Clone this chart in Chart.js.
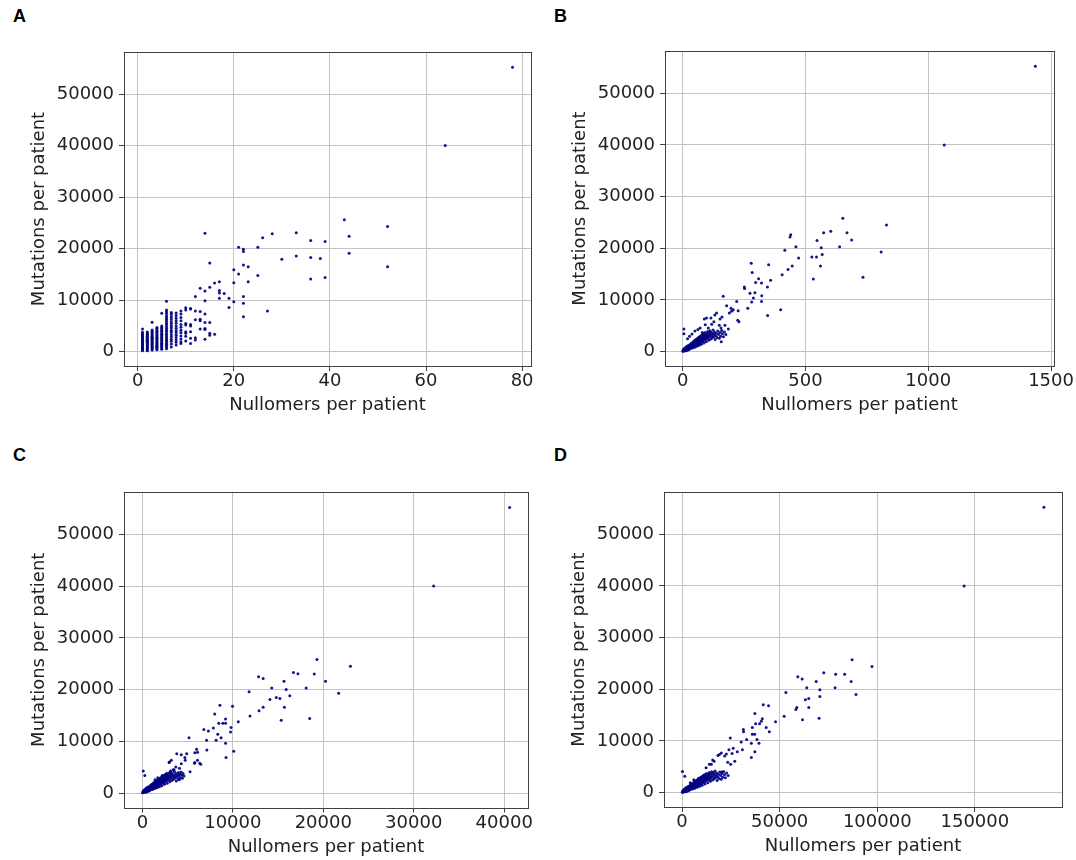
<!DOCTYPE html>
<html lang="en">
<head>
  <meta charset="UTF-8">
  <title>Nullomers vs mutations per patient</title>
  <script src="https://cdn.jsdelivr.net/npm/chart.js@4.4.1/dist/chart.umd.min.js"></script>
  <style>
    body {
      margin: 0;
      width: 1076px;
      height: 860px;
      position: relative;
      overflow: hidden;
      background: #fff;
      font-family: 'Liberation Sans', Arial, sans-serif;
    }
    .panel { position: absolute; width: 538px; height: 430px; }
    .panel canvas { display: block; }
    .tag {
      position: absolute;
      font-size: 18px;
      line-height: 18px;
      font-weight: bold;
      color: #000;
    }
  </style>
</head>
<body>
  <div class="tag" style="left:13px;top:7px">A</div>
  <div class="tag" style="left:554px;top:7px">B</div>
  <div class="tag" style="left:13px;top:446px">C</div>
  <div class="tag" style="left:554px;top:446px">D</div>

  <div class="panel" style="left:0;top:0"><canvas id="chartA" width="538" height="430"></canvas></div>
  <div class="panel" style="left:538px;top:0"><canvas id="chartB" width="538" height="430"></canvas></div>
  <div class="panel" style="left:0;top:430px"><canvas id="chartC" width="538" height="430"></canvas></div>
  <div class="panel" style="left:538px;top:430px"><canvas id="chartD" width="538" height="430"></canvas></div>

  <script>
    // tick labels
    const mutTicks = [0, 10000, 20000, 30000, 40000, 50000];
    const aTicks = [0, 20, 40, 60, 80];
    const bTicks = [0, 500, 1000, 1500];
    const cTicks = [0, 10000, 20000, 30000, 40000];
    const dTicks = [0, 50000, 100000, 150000];

    // panel A: nullomers per patient (small counts, integer columns)
    const aNull = [
      1, 1, 1, 1, 1, 1, 1, 1, 1, 1, 1, 1, 1, 1, 1, 1, 1, 1, 1, 1,
      2, 2, 2, 2, 2, 2, 2, 2, 2, 2, 2, 2, 2, 2, 2, 2, 2, 2, 2, 2,
      3, 3, 3, 3, 3, 3, 3, 3, 3, 3, 3, 3, 3, 3, 3, 3, 3, 3, 3, 3,
      4, 4, 4, 4, 4, 4, 4, 4, 4, 4, 4, 4, 4, 4, 4, 4, 4, 4, 4, 4,
      5, 5, 5, 5, 5, 5, 5, 5, 5, 5, 5, 5, 5, 5, 5, 5, 5, 5, 5, 5,
      6, 6, 6, 6, 6, 6, 6, 6, 6, 6, 6, 6, 6, 6, 6, 6, 6, 6, 6, 6, 6, 6, 6, 6, 6,
      7, 7, 7, 7, 7, 7, 7, 7, 7, 7, 7, 7, 7, 7, 7, 7,
      8, 8, 8, 8, 8, 8, 8, 8, 8, 8, 8, 8, 8, 8,
      9, 9, 9, 9, 9, 9, 9, 9, 9, 9, 9, 9,
      10, 10, 10, 10, 10, 10, 10, 10,
      11, 11, 11, 11, 11, 11, 11,
      12, 12, 12, 12, 12,
      13, 13, 13, 13, 13,
      14, 14, 14, 14, 14, 14, 14, 14,
      15, 15, 15, 15, 15,
      16, 16, 17, 17, 17, 17, 18, 19, 19, 20, 20, 20,
      21, 21, 22, 22, 22, 22, 22, 22, 23, 23,
      25, 25, 26, 27, 28, 30, 33, 33, 36, 36, 36, 38,
      39, 39, 43, 44, 44, 52, 52, 64, 78
    ];
    const aMut = [
      4400, 3760, 3540, 3290, 3100, 2870, 2690, 2450, 2280, 2060, 1910, 1690, 1540, 1330, 1170, 940, 790, 570, 410, 170,
      3850, 3630, 3410, 3230, 2990, 2800, 2590, 2430, 2210, 2050, 1850, 1690, 1480, 1320, 1120, 950, 740, 570, 360, 200,
      5700, 4210, 3930, 3720, 3450, 3240, 3010, 2830, 2590, 2400, 2170, 1990, 1760, 1570, 1340, 1160, 930, 750, 530, 340,
      4690, 4490, 4210, 3990, 3730, 3510, 3260, 3060, 2810, 2600, 2360, 2150, 1910, 1710, 1480, 1280, 1040, 850, 610, 390,
      7480, 5010, 4690, 4460, 4170, 3930, 3650, 3410, 3140, 2910, 2640, 2410, 2140, 1910, 1650, 1430, 1170, 960, 710, 490,
      9800, 8120, 7740, 7410, 6990, 6660, 6290, 5960, 5590, 5260, 4890, 4570, 4220, 3910, 3560, 3260, 2920, 2630, 2300, 2010, 1710, 1450, 1160, 910, 590,
      7600, 7260, 6790, 6360, 5890, 5460, 5040, 4630, 4190, 3810, 3340, 2910, 2440, 2010, 1490, 910,
      7510, 7040, 6510, 5990, 5510, 4990, 4560, 4090, 3660, 3190, 2760, 2290, 1860, 1290,
      7890, 7310, 6640, 6010, 5290, 4760, 4190, 3660, 3040, 2460, 1940, 1610,
      8550, 8100, 5500, 5200, 3900, 3600, 3000, 2100,
      8400, 8300, 5300, 5000, 3900, 2600, 1600,
      10700, 7900, 6200, 2700, 2300,
      12300, 7800, 6300, 6000, 4400,
      23000, 11800, 9900, 7300, 5650, 4500, 4300, 2400,
      17200, 12500, 5650, 3600, 3200,
      13350, 3400, 13600, 11900, 11400, 10400, 11300, 10400, 8600, 15900, 13400, 9700,
      20300, 15100, 19900, 19450, 16850, 10700, 9400, 6800, 16500, 13600,
      20300, 14800, 22100, 7900, 22900, 17950, 23100, 18600, 21600, 18300, 14100, 18100,
      21400, 14400, 25600, 22400, 19100, 24300, 16500, 40000, 55200
    ];

    // dense cluster near the origin in B, C and D: mutations per patient
    const coreMut = [
      80, 260, 150, 420, 110, 300, 560, 210, 380, 650,
      270, 480, 820, 330, 600, 180, 420, 980, 560, 300,
      740, 450, 1150, 620, 880, 380, 1020, 690, 1300, 520,
      840, 1180, 600, 1480, 930, 760, 1250, 1650, 840, 1100,
      1420, 700, 1800, 1200, 950, 1550, 2000, 1080, 1340, 1700,
      880, 2150, 1450, 1180, 1850, 2350, 1300, 1600, 2000, 1050,
      2500, 1750, 1400, 2150, 2700, 1550, 1900, 2350, 1250, 2850,
      2050, 1700, 2500, 3000, 1800, 2200, 2650, 1450, 3200, 2350,
      1950, 2800, 3350, 2100, 2500, 2950, 1700, 3500, 2650, 2250,
      3100, 3700, 2400, 2800, 3250, 1900, 3000, 2550, 3450, 3900,
      2700, 3150, 2200, 3600, 2900, 4050, 3300, 2450, 3750, 3050,
      2650, 3500, 4200, 2900, 3300, 3800, 2350, 3100, 3550, 2750,
      4000, 3300, 2600, 3700, 3000, 4100, 3450, 2900, 3800, 3300
    ];

    // panel B
    const bCoreNull = [
      1, 2, 3, 4, 5, 6, 6, 8, 8, 9,
      10, 11, 12, 13, 14, 14, 15, 16, 17, 18,
      19, 20, 21, 22, 23, 24, 25, 26, 27, 28,
      29, 30, 31, 32, 33, 34, 35, 36, 37, 38,
      39, 40, 41, 42, 43, 44, 45, 46, 47, 48,
      49, 50, 51, 52, 53, 54, 55, 56, 57, 58,
      59, 60, 61, 62, 63, 64, 65, 66, 67, 68,
      69, 70, 71, 72, 73, 74, 75, 76, 77, 78,
      79, 80, 82, 83, 84, 85, 86, 87, 88, 89,
      90, 92, 93, 94, 95, 96, 98, 99, 100, 102,
      103, 105, 106, 108, 109, 111, 113, 114, 116, 118,
      120, 122, 124, 126, 128, 130, 132, 134, 137, 140,
      143, 146, 149, 152, 155, 159, 162, 166, 170, 176
    ];
    const bNull = [
      1436, 1065, 652, 830, 603, 574, 669, 688, 547, 639,
      564, 808, 526, 545, 568, 561, 532, 734, 440, 437,
      416, 461, 472, 446, 429, 405, 350, 279, 283, 251,
      252, 309, 321, 297, 345, 358, 274, 294, 288, 322,
      321, 281, 265, 399, 346, 165, 220, 179, 197, 206,
      199, 226, 190, 224, 229, 138, 131, 160, 152, 88,
      97, 115, 118, 127, 149, 156, 172, 186, 157, 5,
      5, 20, 28, 38, 50, 62, 71, 80, 92, 104
    ];
    const bMut = [
      55200, 40000, 25800, 24500, 23300, 23000, 23000, 21600, 21500, 20300,
      20100, 19300, 18300, 18300, 18800, 16600, 14050, 14400, 22600, 22200,
      19600, 20300, 18100, 16600, 15900, 14900, 16800, 17100, 15300, 12500,
      12200, 14100, 13300, 13400, 12500, 13800, 11300, 11400, 10400, 10800,
      9700, 9600, 8400, 8100, 7000, 10700, 9700, 8900, 8400, 8100,
      7800, 7900, 7500, 6100, 5800, 7500, 7100, 6700, 6300, 6300,
      6500, 6500, 5300, 5800, 5100, 4600, 5100, 4400, 1900, 4400,
      3450, 2500, 3000, 3400, 4000, 4300, 4600, 3700, 5200, 4600
    ];

    // panel C
    const cCoreNull = [
      30, 60, 90, 120, 150, 170, 190, 220, 240, 260,
      280, 310, 340, 360, 390, 410, 430, 450, 480, 510,
      530, 560, 590, 610, 640, 670, 700, 720, 750, 780,
      810, 840, 860, 890, 920, 950, 980, 1010, 1030, 1060,
      1090, 1120, 1150, 1180, 1200, 1230, 1260, 1290, 1320, 1350,
      1370, 1400, 1430, 1460, 1490, 1520, 1550, 1570, 1600, 1630,
      1660, 1690, 1720, 1750, 1780, 1800, 1830, 1860, 1890, 1920,
      1950, 1980, 2000, 2030, 2060, 2090, 2120, 2150, 2180, 2210,
      2240, 2270, 2320, 2350, 2380, 2410, 2440, 2470, 2500, 2530,
      2560, 2620, 2650, 2680, 2710, 2740, 2800, 2830, 2860, 2920,
      2950, 3000, 3030, 3080, 3110, 3170, 3220, 3250, 3300, 3360,
      3420, 3470, 3530, 3580, 3640, 3700, 3750, 3810, 3880, 3950,
      3980, 4030, 4090, 4150, 4200, 4280, 4350, 4420, 4500, 4600
    ];
    const cNull = [
      40600, 32200, 19300, 23000, 12850, 13350, 16700, 17200, 19000, 15660,
      20250, 14300, 18100, 15900, 11800, 21700, 14100, 14800, 15200, 16300,
      15700, 13350, 12900, 11900, 15350, 18500, 8570, 9970, 8000, 9200,
      8900, 8450, 9200, 10600, 9800, 9750, 7850, 6800, 7300, 8340,
      8700, 8150, 9200, 9250, 10100, 5160, 7100, 7130, 6000, 5800,
      6100, 5760, 6450, 6100, 5270, 3800, 4900, 4700, 4740, 3000,
      3200, 4300, 3700, 100, 270, 4300, 5800, 6350, 3400, 4100,
      2950, 2200, 1700, 2700, 3100, 1400, 3500
    ];
    const cMut = [
      55200, 40000, 25800, 24500, 22500, 22150, 23300, 23050, 23000, 21600,
      21600, 20300, 20300, 20000, 19600, 19300, 18100, 18500, 18300, 18800,
      16600, 16600, 15900, 14900, 14100, 14400, 17000, 16800, 15300, 14300,
      13500, 13500, 13500, 13800, 12700, 11800, 12600, 12300, 12000, 11400,
      10700, 10200, 9650, 6900, 8100, 10700, 10200, 8350, 8500, 7800,
      7900, 5800, 5600, 6350, 4150, 7600, 7600, 6900, 6350, 6000,
      6350, 5700, 5050, 4300, 3400, 7400, 5900, 5800, 4500, 4800,
      5900, 3400, 3000, 3800, 4300, 2600, 4500
    ];

    // panel D
    const dCoreNull = [
      150, 280, 420, 550, 700, 800, 900, 1050, 1150, 1250,
      1350, 1480, 1600, 1700, 1850, 1950, 2050, 2150, 2300, 2450,
      2550, 2700, 2850, 2950, 3050, 3200, 3350, 3450, 3600, 3750,
      3900, 4000, 4150, 4250, 4400, 4550, 4700, 4850, 4950, 5100,
      5250, 5400, 5500, 5650, 5750, 5900, 6050, 6200, 6300, 6450,
      6550, 6700, 6850, 7000, 7150, 7300, 7400, 7550, 7650, 7800,
      7950, 8100, 8250, 8400, 8500, 8650, 8800, 8950, 9050, 9200,
      9350, 9500, 9600, 9750, 9900, 10000, 10150, 10300, 10450, 10600,
      10700, 10850, 11100, 11250, 11400, 11550, 11700, 11850, 12000, 12100,
      12250, 12550, 12700, 12850, 13000, 13150, 13400, 13550, 13700, 14000,
      14100, 14350, 14500, 14750, 14900, 15200, 15400, 15550, 15800, 16100,
      16350, 16600, 16900, 17100, 17400, 17700, 17950, 18200, 18550, 18900,
      19300, 19700, 20000, 20400, 20800, 21300, 21700, 22200, 22800, 23600
    ];
    const dNull = [
      185400, 144500, 87100, 97300, 59300, 61500, 72600, 78700, 83300, 68700,
      86600, 63900, 78400, 70600, 53200, 89100, 63200, 64900, 70600, 64900,
      58800, 58300, 52300, 61700, 70200, 41600, 44300, 37300, 41100, 37700,
      39700, 40600, 47900, 43100, 44700, 36000, 31400, 31500, 36000, 37200,
      38400, 39400, 35500, 33100, 24700, 30300, 37300, 35500, 30900, 26200,
      28300, 24000, 25600, 23400, 24900, 20300, 18400, 20100, 21800, 22700,
      16400, 15000, 200, 1400, 15700, 27000, 12300, 14000, 19100, 6000,
      8500, 11000, 13500, 16000, 9800, 4200
    ];
    const dMut = [
      55200, 40000, 25700, 24400, 22450, 22000, 23200, 22900, 22900, 21500,
      21500, 20300, 20300, 19900, 19400, 19000, 18000, 18200, 18600, 16500,
      16500, 16100, 14800, 14100, 14400, 17000, 16800, 15300, 14300, 13350,
      13350, 13800, 13700, 12600, 11800, 12600, 12200, 11800, 11300, 11300,
      10300, 9550, 9550, 10300, 10600, 9800, 7900, 6800, 8300, 8600,
      7900, 8300, 7600, 5900, 5500, 4000, 7200, 7700, 7100, 7500,
      6100, 5500, 4100, 3200, 6300, 6100, 4800, 5500, 7400, 2500,
      2800, 3300, 3600, 3900, 3000, 1900
    ];

    const ink = '#222222';
    const axisColor = '#404040';
    const gridColor = '#c4c4c4';
    const font = { family: "'DejaVu Sans', sans-serif", size: 18, lineHeight: 1.2 };

    // matplotlib style box around the plot area
    const framePlugin = {
      id: 'frame',
      beforeDatasetsDraw(chart) {
        const { ctx, chartArea: a } = chart;
        ctx.save();
        ctx.strokeStyle = axisColor;
        ctx.lineWidth = 1;
        ctx.strokeRect(Math.round(a.left) + 0.5, Math.round(a.top) + 0.5,
          Math.round(a.right - a.left), Math.round(a.bottom - a.top));
        ctx.restore();
      }
    };

    function toPoints(xs, ys) {
      return xs.map((v, i) => ({ x: v, y: ys[i] }));
    }

    function makePanel(id, points, xTicks, xMin, xMax, box) {
      const W = 538, H = 430;
      const yTitleX = box.left - 84.5;
      const xTitleY = box.bottom + 39.5;

      new Chart(document.getElementById(id), {
        type: 'scatter',
        data: {
          datasets: [{
            data: points,
            backgroundColor: 'rgba(0, 0, 128, 0.92)',
            borderWidth: 0,
            pointRadius: 1.5,
            pointHoverRadius: 1.5
          }]
        },
        options: {
          responsive: false,
          animation: false,
          events: [],
          layout: { padding: { top: box.top, right: W - box.right, left: 0, bottom: 0 } },
          plugins: { legend: { display: false }, tooltip: { enabled: false } },
          scales: {
            x: {
              type: 'linear',
              min: xMin,
              max: xMax,
              afterBuildTicks: s => { s.ticks = xTicks.map(v => ({ value: v })); },
              afterFit: s => { s.height = H - box.bottom; s.paddingLeft = 0; s.paddingRight = 0; },
              border: { display: false },
              grid: { color: gridColor, lineWidth: 1, drawTicks: true, tickLength: 5, tickColor: axisColor, tickWidth: 1 },
              ticks: { font, color: ink, padding: 0, maxRotation: 0, autoSkip: false, callback: v => String(v) },
              title: {
                display: true, text: 'Nullomers per patient', font, color: ink,
                padding: { top: 0, bottom: H - xTitleY - 10.8 }
              }
            },
            y: {
              type: 'linear',
              min: -2770,
              max: 58170,
              afterBuildTicks: s => { s.ticks = mutTicks.map(v => ({ value: v })); },
              afterFit: s => { s.width = box.left; s.paddingTop = 0; s.paddingBottom = 0; },
              border: { display: false },
              grid: { color: gridColor, lineWidth: 1, drawTicks: true, tickLength: 5, tickColor: axisColor, tickWidth: 1 },
              ticks: { font, color: ink, padding: 5, autoSkip: false, callback: v => String(v) },
              title: {
                display: true, text: 'Mutations per patient', font, color: ink,
                padding: { top: yTitleX - 10.8, bottom: 0 }
              }
            }
          }
        },
        plugins: [framePlugin]
      });
    }

    makePanel('chartA', toPoints(aNull, aMut), aTicks, -2.85, 81.85,
      { left: 124, top: 52, right: 531, bottom: 366 });
    makePanel('chartB', toPoints(bNull, bMut).concat(toPoints(bCoreNull, coreMut)), bTicks, -72, 1512,
      { left: 127, top: 51, right: 516, bottom: 366 });
    makePanel('chartC', toPoints(cNull, cMut).concat(toPoints(cCoreNull, coreMut)), cTicks, -2030, 42630,
      { left: 124, top: 62, right: 528, bottom: 377.5 });
    makePanel('chartD', toPoints(dNull, dMut).concat(toPoints(dCoreNull, coreMut)), dTicks, -9260, 194660,
      { left: 126, top: 62, right: 524, bottom: 377 });
  </script>
</body>
</html>
